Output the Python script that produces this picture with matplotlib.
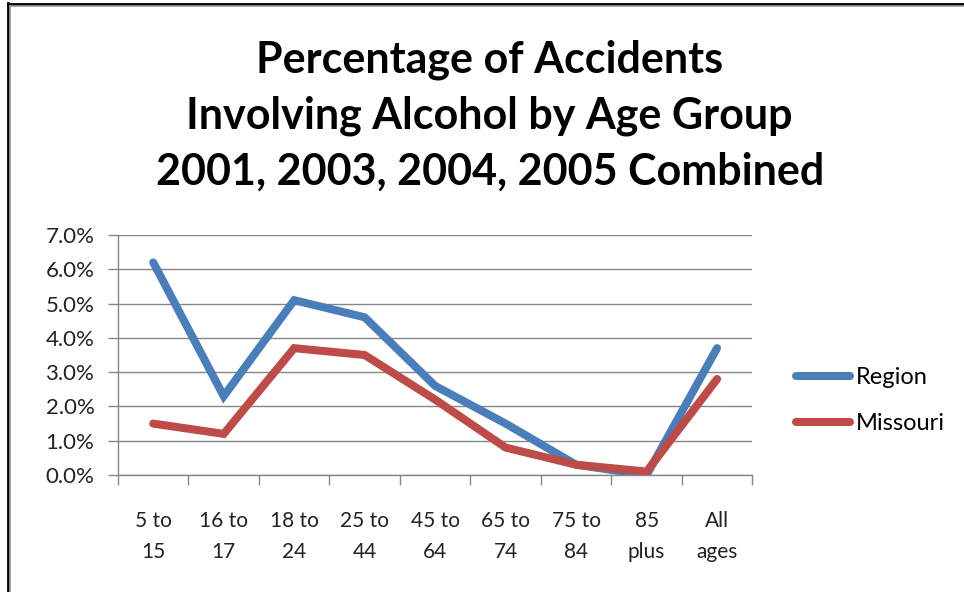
import matplotlib.pyplot as plt
from matplotlib.lines import Line2D
from matplotlib.ticker import FuncFormatter, FixedLocator

age_groups = ['5 to\n15', '16 to\n17', '18 to\n24', '25 to\n44', '45 to\n64',
              '65 to\n74', '75 to\n84', '85\nplus', 'All\nages']
region = [6.2, 2.3, 5.1, 4.6, 2.6, 1.5, 0.3, 0.0, 3.7]
missouri = [1.5, 1.2, 3.7, 3.5, 2.2, 0.8, 0.3, 0.1, 2.8]

plt.rcParams['font.family'] = ['Lato', 'DejaVu Sans']

fig = plt.figure(figsize=(9.64, 5.92), dpi=100)
ax = fig.add_axes([0.1224, 0.1976, 0.658, 0.4054])

x = list(range(len(age_groups)))
ax.plot(x, region, color='#4A7EBB', lw=5.8, label='Region', solid_capstyle='round', solid_joinstyle='miter')
ax.plot(x, missouri, color='#BE4B48', lw=5.8, label='Missouri', solid_capstyle='round', solid_joinstyle='miter')

ax.set_xlim(-0.5, len(age_groups) - 0.5)
ax.set_ylim(0, 7)
ax.set_yticks([0, 1, 2, 3, 4, 5, 6, 7])
ax.yaxis.set_major_formatter(FuncFormatter(lambda v, p: f'{v:.1f}%'))
ax.grid(axis='y', color='#868686', lw=1)
ax.set_axisbelow(True)

ax.set_xticks(x)
ax.set_xticklabels(age_groups, fontsize=15, color='#222222', linespacing=1.7)
ax.xaxis.set_minor_locator(FixedLocator([i - 0.5 for i in range(len(age_groups) + 1)]))
ax.tick_params(axis='x', which='major', length=0, pad=26)
ax.tick_params(axis='x', which='minor', length=7, color='#868686', width=1)
ax.tick_params(axis='y', length=7, color='#868686', width=1, labelsize=16, labelcolor='#222222', pad=10)

for s in ['top', 'right']:
    ax.spines[s].set_visible(False)
for s in ['left', 'bottom']:
    ax.spines[s].set_color('#868686')
    ax.spines[s].set_linewidth(1)

ax.legend(loc='center left', bbox_to_anchor=(1.035, 0.31), frameon=False, fontsize=17,
          handlelength=2.3, handletextpad=0.25, labelspacing=1.05)

fig.text(0.508, 0.805, 'Percentage of Accidents\nInvolving Alcohol by Age Group\n2001, 2003, 2004, 2005 Combined',
         ha='center', va='center', fontsize=31, fontweight='bold', linespacing=1.48)

# outer frame
fig.add_artist(Line2D([7.5 / 964, 7.5 / 964], [0, 1 - 3 / 592], transform=fig.transFigure, color='black', lw=2))
fig.add_artist(Line2D([7.5 / 964, 1], [1 - 3.5 / 592, 1 - 3.5 / 592], transform=fig.transFigure, color='black', lw=2))
fig.add_artist(Line2D([10 / 964, 10 / 964], [0, 1 - 6 / 592], transform=fig.transFigure, color='#999999', lw=1.2))
fig.add_artist(Line2D([10 / 964, 1], [1 - 6 / 592, 1 - 6 / 592], transform=fig.transFigure, color='#999999', lw=1.2))

fig.savefig('out.png', dpi=100)
